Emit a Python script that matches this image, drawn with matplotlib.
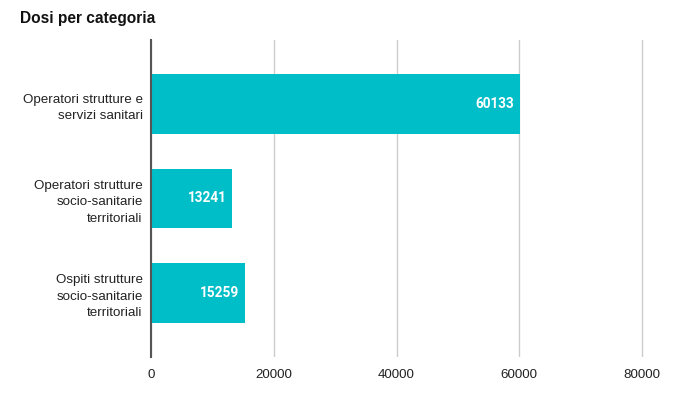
import matplotlib
matplotlib.use("Agg")
import matplotlib.pyplot as plt

categories = ["Operatori strutture e\nservizi sanitari",
              "Operatori strutture\nsocio-sanitarie\nterritoriali",
              "Ospiti strutture\nsocio-sanitarie\nterritoriali"]
values = [60133, 13241, 15259]
xticks = [0, 20000, 40000, 60000, 80000]
title = "Dosi per categoria"

bar_color = "#00BEC8"

fig = plt.figure(figsize=(6.95, 4.07), dpi=100)
x0, x80 = 151, 642
xmax = 81000
right = x0 + (x80 - x0) * xmax / 80000
ax = fig.add_axes([x0/695, 1 - 357/407, (right-x0)/695, (357-40)/407])

y = list(range(len(categories)))
bars = ax.barh(y, values, height=0.635, color=bar_color, zorder=3)
ax.set_ylim(2.68, -0.68)
ax.set_xlim(0, xmax)
ax.set_yticks(y)
ax.set_yticklabels(categories, fontsize=9.6, family="Liberation Sans", color="#222222",
                   linespacing=1.5)
ax.set_xticks(xticks)
ax.set_xticklabels([str(t) for t in xticks], fontsize=9.6, family="Liberation Sans", color="#222222")
ax.tick_params(axis="both", length=0)
ax.tick_params(axis="x", pad=9)
ax.tick_params(axis="y", pad=6)
ax.grid(axis="x", color="#cccccc", linewidth=1, zorder=0)
for s in ["top", "right", "bottom"]:
    ax.spines[s].set_visible(False)
ax.spines["left"].set_color("#555555")
ax.spines["left"].set_linewidth(1.5)
ax.spines["left"].set_zorder(4)

for b, v in zip(bars, values):
    ax.annotate(str(v), xy=(b.get_width(), b.get_y() + b.get_height()/2),
                xytext=(-4, 0), textcoords="offset points", ha="right", va="center",
                color="white", fontsize=9.8, fontweight="bold", family="Roboto", zorder=5)

fig.text(20/695, 1 - 18/407, title, fontsize=11.2, fontweight="bold", family="Liberation Sans",
         ha="left", va="center", color="#111111")

fig.savefig("out.png", dpi=100)
